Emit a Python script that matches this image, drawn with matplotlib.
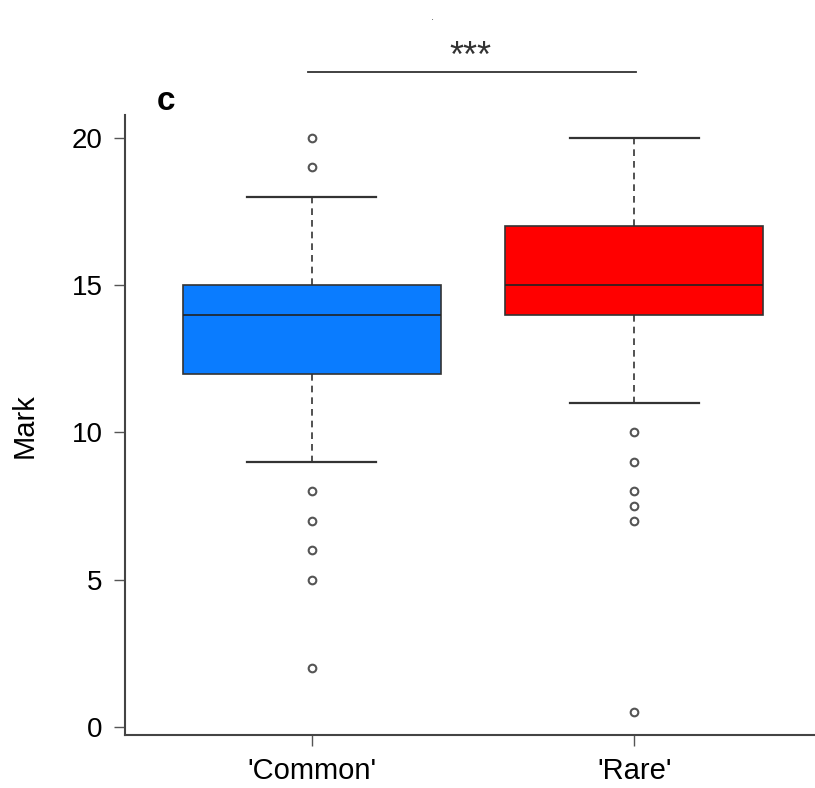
import matplotlib
matplotlib.use('Agg')
import matplotlib.pyplot as plt

plt.rcParams['font.family'] = ['Liberation Sans', 'DejaVu Sans']

groups = ["'Common'", "'Rare'"]
colors = ['#0a7cff', '#ff0000']
# five-number summaries: whisker low, q1, median, q3, whisker high
whislo = [9, 11]
q1 = [12, 14]
med = [14, 15]
q3 = [15, 17]
whishi = [18, 20]
outliers = [
    [20, 19, 8, 7, 6, 5, 2],
    [10, 9, 8, 7.5, 7, 0.5],
]
y_ticks = [0, 5, 10, 15, 20]

stats = []
for i, g in enumerate(groups):
    stats.append({'label': g, 'whislo': whislo[i], 'q1': q1[i], 'med': med[i],
                  'q3': q3[i], 'whishi': whishi[i], 'fliers': outliers[i]})

fig = plt.figure(figsize=(8.15, 7.88), dpi=100)
ax = fig.add_axes([0.153, 0.067, 0.847, 0.787])

bp = ax.bxp(stats, positions=[1, 2], widths=0.8, patch_artist=True,
            boxprops=dict(edgecolor='#333333', linewidth=1.2),
            medianprops=dict(color='#222222', linewidth=1.2),
            whiskerprops=dict(color='#333333', linewidth=1.2, linestyle=(0, (4, 3))),
            capprops=dict(color='#333333', linewidth=1.6),
            flierprops=dict(marker='o', markersize=5.5, markerfacecolor='white',
                            markeredgecolor='#555555', markeredgewidth=1.5),
            capwidths=0.4)
for patch, c in zip(bp['boxes'], colors):
    patch.set_facecolor(c)

ax.set_xlim(0.42, 2.56)
ax.set_ylim(-0.28, 20.78)
ax.set_yticks(y_ticks)
ax.set_xticks([1, 2])
ax.set_xticklabels(groups)
ax.tick_params(axis='y', labelsize=20, length=8, width=1, color='#555555',
               direction='out', pad=8)
ax.tick_params(axis='x', labelsize=21, length=8, width=1, color='#555555',
               direction='out', pad=8)
ax.set_ylabel('Mark', fontsize=21, labelpad=24)

for side in ['top', 'right']:
    ax.spines[side].set_visible(False)
for side in ['left', 'bottom']:
    ax.spines[side].set_color('#444444')
    ax.spines[side].set_linewidth(1.5)

# panel letter and significance bar
fig.text(166 / 815, 1 - 101 / 788, 'c', fontsize=24, fontweight='bold',
         ha='center', va='center')
line_y = 1 - 72 / 788
fig.add_artist(plt.Line2D([308 / 815, 636 / 815], [line_y, line_y],
                          color='#333333', linewidth=1.3))
fig.text(470 / 815, 1 - 57 / 788, '***', fontsize=26, ha='center', va='center',
         color='#333333')
fig.text(432 / 815, 1 - 17 / 788, '.', fontsize=8, ha='center', va='center',
         color='#555555')

plt.savefig('out.png', dpi=100)
plt.close(fig)
